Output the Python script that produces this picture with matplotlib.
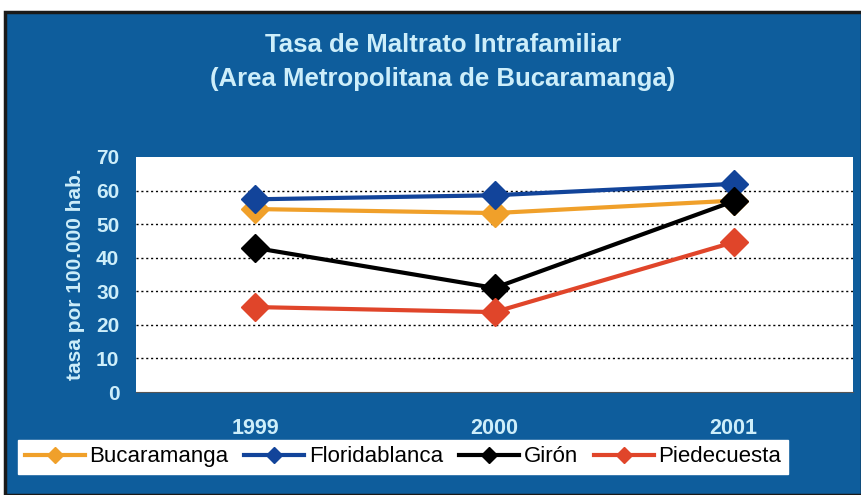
import matplotlib
matplotlib.use("Agg")
import matplotlib.pyplot as plt
from matplotlib.patches import Rectangle
from matplotlib.lines import Line2D

years = ["1999", "2000", "2001"]
bucaramanga = [54.5, 53.3, 57.0]
floridablanca = [57.4, 58.6, 62.0]
giron = [42.9, 31.0, 56.8]
piedecuesta = [25.3, 23.8, 44.6]
series_names = ["Bucaramanga", "Floridablanca", "Girón", "Piedecuesta"]
series_values = [bucaramanga, floridablanca, giron, piedecuesta]
series_colors = ["#f0a02a", "#12449a", "#000000", "#e0452a"]
yticks = [0, 10, 20, 30, 40, 50, 60, 70]

plt.rcParams["font.family"] = ["Liberation Sans", "DejaVu Sans"]

W, H = 862, 495
fig = plt.figure(figsize=(W / 100, H / 100), dpi=100)
fig.patch.set_facecolor("white")
panel_color = "#0e5d9c"
text_color = "#cdeefa"
fig.patches.append(Rectangle((5 / W, 0), 1 - 5 / W, (H - 12) / H, transform=fig.transFigure,
                             facecolor=panel_color, edgecolor="#1a1a1a", linewidth=2.5, zorder=-5))

ax = fig.add_axes([136 / W, 1 - 392 / H, (853 - 136) / W, (392 - 157) / H])
ax.set_zorder(2)
ax.set_facecolor("white")
x = list(range(len(years)))
for name, vals, col in zip(series_names, series_values, series_colors):
    ax.plot(x, vals, color=col, linewidth=3, marker="D", markersize=14, label=name, zorder=3)

ax.set_xlim(-0.5, 2.5)
ax.set_ylim(0, 70)
ax.set_yticks(yticks)
ax.set_yticklabels([str(v) for v in yticks], fontsize=15, fontweight="bold", color=text_color)
ax.set_xticks(x)
ax.set_xticklabels(years, fontsize=15.5, fontweight="bold", color=text_color)
ax.tick_params(axis="y", length=0, pad=12)
ax.tick_params(axis="x", length=0, pad=19)
for y in yticks[1:-1]:
    ax.axhline(y, color="black", linestyle=(0, (1.5, 2)), linewidth=1.0, zorder=1)
for s in ["top", "left", "right"]:
    ax.spines[s].set_visible(False)
ax.spines["bottom"].set_color("#555555")
ax.set_ylabel("tasa por 100.000 hab.", fontsize=15, fontweight="bold", color=text_color, labelpad=8)

fig.text(443 / W, 1 - 45 / H, "Tasa de Maltrato Intrafamiliar", ha="center", va="center",
         fontsize=18.5, fontweight="bold", color=text_color)
fig.text(443 / W, 1 - 79 / H, "(Area Metropolitana de Bucaramanga)", ha="center", va="center",
         fontsize=18.5, fontweight="bold", color=text_color)

handles = [Line2D([0], [0], color=c, linewidth=3, marker="D", markersize=8) for c in series_colors]
leg = fig.legend(handles, series_names, loc="center", bbox_to_anchor=(403 / W, 1 - 457 / H),
                 ncol=4, frameon=True, fancybox=False, framealpha=1.0, handlelength=2.7,
                 handletextpad=0.2, columnspacing=0.72, borderpad=0.3, edgecolor="white",
                 prop={"size": 16})
leg.get_frame().set_facecolor("white")
leg.set_zorder(5)

fig.savefig("out.png", dpi=100, facecolor=fig.get_facecolor())
